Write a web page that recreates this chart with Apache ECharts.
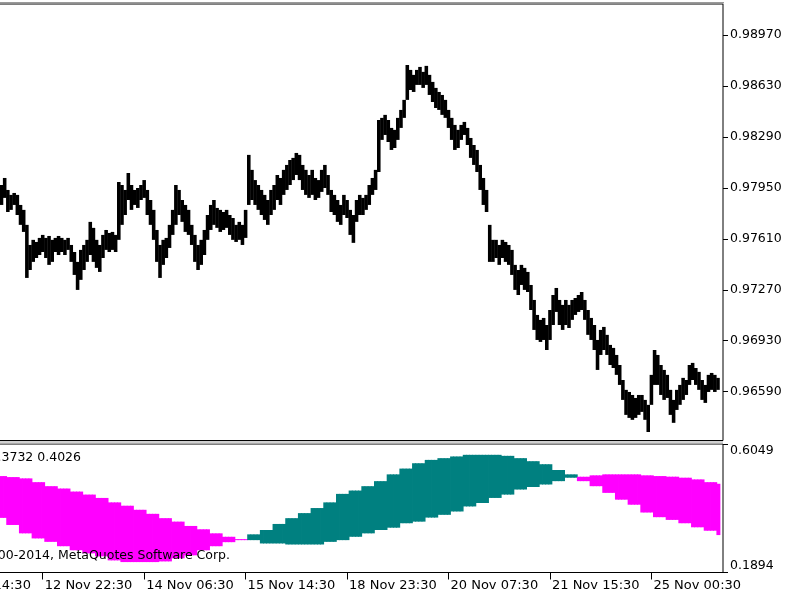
<!DOCTYPE html>
<html>
<head>
<meta charset="utf-8">
<title>H1 chart with MTF oscillator</title>
<script src="https://cdn.jsdelivr.net/npm/echarts@6.0.0/dist/echarts.min.js"></script>
<style>
  html, body { margin: 0; padding: 0; background: #fff; }
  #main { width: 800px; height: 600px; }
</style>
</head>
<body>
<div id="main"></div>
<script>
// H1 bars, index 0 = first bar at the left edge of the window
var highs = [
  0.97969, 0.98016, 0.97936, 0.97903, 0.97916, 0.97903, 0.97836, 0.97803, 0.97703, 0.97569,
  0.97603, 0.97589, 0.97616, 0.97636, 0.97616, 0.97629, 0.97603, 0.97616, 0.97629, 0.97616,
  0.97603, 0.97616, 0.97569, 0.97522, 0.97456, 0.97536, 0.97569, 0.97603, 0.97723, 0.97683,
  0.97603, 0.97569, 0.97636, 0.97669, 0.97649, 0.97656, 0.97636, 0.97989, 0.97969, 0.97936,
  0.98049, 0.97969, 0.97936, 0.97949, 0.97969, 0.98002, 0.97936, 0.97869, 0.97803, 0.97669,
  0.97569, 0.97603, 0.97616, 0.97703, 0.97803, 0.97969, 0.97936, 0.97869, 0.97836, 0.97803,
  0.97703, 0.97636, 0.97569, 0.97603, 0.97669, 0.97769, 0.97836, 0.97869, 0.97816, 0.97803,
  0.97789, 0.97803, 0.97769, 0.97749, 0.97703, 0.97723, 0.97703, 0.97803, 0.98170, 0.98070,
  0.98002, 0.97969, 0.97936, 0.97903, 0.97869, 0.97936, 0.97969, 0.98036, 0.98016, 0.98070,
  0.98103, 0.98136, 0.98150, 0.98183, 0.98170, 0.98103, 0.98070, 0.98036, 0.98070, 0.98016,
  0.98002, 0.98070, 0.98103, 0.98036, 0.97936, 0.97903, 0.97869, 0.97836, 0.97903, 0.97869,
  0.97803, 0.97769, 0.97869, 0.97903, 0.97883, 0.97903, 0.97969, 0.98016, 0.98070, 0.98403,
  0.98417, 0.98437, 0.98403, 0.98350, 0.98337, 0.98417, 0.98470, 0.98537, 0.98770, 0.98737,
  0.98704, 0.98737, 0.98757, 0.98724, 0.98764, 0.98704, 0.98657, 0.98617, 0.98590, 0.98570,
  0.98537, 0.98470, 0.98417, 0.98370, 0.98337, 0.98370, 0.98390, 0.98350, 0.98283, 0.98236,
  0.98203, 0.98103, 0.98016, 0.97936, 0.97703, 0.97603, 0.97603, 0.97569, 0.97603, 0.97589,
  0.97569, 0.97536, 0.97436, 0.97402, 0.97436, 0.97416, 0.97389, 0.97302, 0.97202, 0.97102,
  0.97069, 0.97082, 0.97035, 0.97135, 0.97235, 0.97282, 0.97202, 0.97169, 0.97202, 0.97169,
  0.97202, 0.97215, 0.97235, 0.97255, 0.97202, 0.97135, 0.97082, 0.97035, 0.96935, 0.97002,
  0.97022, 0.96969, 0.96902, 0.96882, 0.96835, 0.96768, 0.96668, 0.96602, 0.96588, 0.96568,
  0.96548, 0.96568, 0.96568, 0.96535, 0.96502, 0.96702, 0.96868, 0.96835, 0.96768, 0.96735,
  0.96702, 0.96602, 0.96535, 0.96602, 0.96635, 0.96682, 0.96668, 0.96768, 0.96782, 0.96748,
  0.96722, 0.96668, 0.96635, 0.96702, 0.96715, 0.96702, 0.96682
];
var lows = [
  0.97836, 0.97883, 0.97789, 0.97803, 0.97836, 0.97769, 0.97703, 0.97656, 0.97349, 0.97402,
  0.97456, 0.97482, 0.97502, 0.97522, 0.97482, 0.97436, 0.97456, 0.97522, 0.97502, 0.97522,
  0.97502, 0.97536, 0.97456, 0.97369, 0.97269, 0.97336, 0.97402, 0.97456, 0.97502, 0.97456,
  0.97416, 0.97389, 0.97482, 0.97536, 0.97522, 0.97536, 0.97522, 0.97603, 0.97703, 0.97769,
  0.97869, 0.97803, 0.97836, 0.97816, 0.97869, 0.97883, 0.97769, 0.97703, 0.97603, 0.97456,
  0.97349, 0.97436, 0.97482, 0.97549, 0.97636, 0.97703, 0.97769, 0.97723, 0.97656, 0.97636,
  0.97569, 0.97456, 0.97402, 0.97436, 0.97502, 0.97603, 0.97669, 0.97703, 0.97683, 0.97656,
  0.97669, 0.97683, 0.97636, 0.97603, 0.97589, 0.97603, 0.97569, 0.97616, 0.97836, 0.97869,
  0.97836, 0.97803, 0.97769, 0.97736, 0.97703, 0.97769, 0.97803, 0.97869, 0.97836, 0.97903,
  0.97936, 0.97969, 0.98002, 0.98036, 0.98002, 0.97936, 0.97903, 0.97883, 0.97903, 0.97869,
  0.97883, 0.97923, 0.97949, 0.97903, 0.97789, 0.97769, 0.97723, 0.97703, 0.97769, 0.97749,
  0.97636, 0.97583, 0.97723, 0.97769, 0.97769, 0.97803, 0.97836, 0.97903, 0.97936, 0.98056,
  0.98270, 0.98303, 0.98256, 0.98203, 0.98216, 0.98270, 0.98350, 0.98417, 0.98537, 0.98603,
  0.98590, 0.98637, 0.98637, 0.98617, 0.98637, 0.98570, 0.98523, 0.98483, 0.98470, 0.98437,
  0.98417, 0.98350, 0.98270, 0.98203, 0.98216, 0.98270, 0.98303, 0.98236, 0.98150, 0.98103,
  0.98056, 0.97936, 0.97836, 0.97789, 0.97456, 0.97456, 0.97482, 0.97436, 0.97482, 0.97456,
  0.97436, 0.97369, 0.97269, 0.97235, 0.97302, 0.97269, 0.97255, 0.97135, 0.97002, 0.96935,
  0.96922, 0.96935, 0.96868, 0.96935, 0.97035, 0.97122, 0.97035, 0.97002, 0.97035, 0.97015,
  0.97069, 0.97102, 0.97122, 0.97135, 0.97069, 0.96969, 0.96935, 0.96868, 0.96735, 0.96835,
  0.96868, 0.96835, 0.96768, 0.96748, 0.96702, 0.96635, 0.96535, 0.96435, 0.96415, 0.96402,
  0.96415, 0.96435, 0.96455, 0.96402, 0.96321, 0.96502, 0.96635, 0.96635, 0.96568, 0.96535,
  0.96548, 0.96435, 0.96382, 0.96468, 0.96502, 0.96535, 0.96568, 0.96635, 0.96668, 0.96635,
  0.96602, 0.96535, 0.96515, 0.96588, 0.96602, 0.96588, 0.96602
];

// oscillator from the H4 timeframe, one value per H1 bar (4 bars per H4 step)
var slowLine = [
  0.5012, 0.5012,
  0.4979, 0.4979, 0.4979, 0.4979,
  0.4937, 0.4937, 0.4937, 0.4937,
  0.4815, 0.4815, 0.4815, 0.4815,
  0.4685, 0.4685, 0.4685, 0.4685,
  0.4609, 0.4609, 0.4609, 0.4609,
  0.4511, 0.4511, 0.4511, 0.4511,
  0.4413, 0.4413, 0.4413, 0.4413,
  0.4305, 0.4305, 0.4305, 0.4305,
  0.4161, 0.4161, 0.4161, 0.4161,
  0.4053, 0.4053, 0.4053, 0.4053,
  0.3922, 0.3922, 0.3922, 0.3922,
  0.3791, 0.3791, 0.3791, 0.3791,
  0.3651, 0.3651, 0.3651, 0.3651,
  0.3539, 0.3539, 0.3539, 0.3539,
  0.3399, 0.3399, 0.3399, 0.3399,
  0.3291, 0.3291, 0.3291, 0.3291,
  0.3160, 0.3160, 0.3160, 0.3160,
  0.3049, 0.3049, 0.3049, 0.3049,
  0.2973, 0.2973, 0.2973, 0.2973,
  0.2941, 0.2941, 0.2941, 0.2941,
  0.2833, 0.2833, 0.2833, 0.2833,
  0.2833, 0.2833, 0.2833, 0.2833,
  0.2800, 0.2800, 0.2800, 0.2800,
  0.2800, 0.2800, 0.2800, 0.2800,
  0.2800, 0.2800, 0.2800, 0.2800,
  0.2885, 0.2885, 0.2885, 0.2885,
  0.2941, 0.2941, 0.2941, 0.2941,
  0.3049, 0.3049, 0.3049, 0.3049,
  0.3160, 0.3160, 0.3160, 0.3160,
  0.3268, 0.3268, 0.3268, 0.3268,
  0.3343, 0.3343, 0.3343, 0.3343,
  0.3487, 0.3487, 0.3487, 0.3487,
  0.3539, 0.3539, 0.3539, 0.3539,
  0.3670, 0.3670, 0.3670, 0.3670,
  0.3759, 0.3759, 0.3759, 0.3759,
  0.3867, 0.3867, 0.3867, 0.3867,
  0.4030, 0.4030, 0.4030, 0.4030,
  0.4141, 0.4141, 0.4141, 0.4141,
  0.4305, 0.4305, 0.4305, 0.4305,
  0.4413, 0.4413, 0.4413, 0.4413,
  0.4577, 0.4577, 0.4577, 0.4577,
  0.4658, 0.4658, 0.4658, 0.4658,
  0.4740, 0.4740, 0.4740, 0.4740,
  0.4848, 0.4848, 0.4848, 0.4848,
  0.4959, 0.4959, 0.4959, 0.4959,
  0.4990, 0.4990, 0.4990, 0.4990,
  0.5035, 0.5035, 0.5035, 0.5035,
  0.5067, 0.5067, 0.5067, 0.5067,
  0.5067, 0.5067, 0.5067, 0.5067,
  0.5067, 0.5067, 0.5067, 0.5067,
  0.5035, 0.5035, 0.5035, 0.5035,
  0.5012, 0.5012, 0.5012, 0.5012,
  0.4992, 0.4992, 0.4992, 0.4992,
  0.4959, 0.4959, 0.4959, 0.4959,
  0.4904, 0.4904, 0.4904, 0.4904,
  0.4815, 0.4815, 0.4815, 0.4815,
  0.4763
];
var fastLine = [
  0.3660, 0.3660,
  0.3431, 0.3431, 0.3431, 0.3431,
  0.3160, 0.3160, 0.3160, 0.3160,
  0.2996, 0.2996, 0.2996, 0.2996,
  0.2885, 0.2885, 0.2885, 0.2885,
  0.2744, 0.2744, 0.2744, 0.2744,
  0.2613, 0.2613, 0.2613, 0.2613,
  0.2515, 0.2515, 0.2515, 0.2515,
  0.2417, 0.2417, 0.2417, 0.2417,
  0.2286, 0.2286, 0.2286, 0.2286,
  0.2231, 0.2231, 0.2231, 0.2231,
  0.2231, 0.2231, 0.2231, 0.2231,
  0.2231, 0.2231, 0.2231, 0.2231,
  0.2253, 0.2253, 0.2253, 0.2253,
  0.2352, 0.2352, 0.2352, 0.2352,
  0.2450, 0.2450, 0.2450, 0.2450,
  0.2613, 0.2613, 0.2613, 0.2613,
  0.2744, 0.2744, 0.2744, 0.2744,
  0.2875, 0.2875, 0.2875, 0.2875,
  0.2941, 0.2941, 0.2941, 0.2941,
  0.3127, 0.3127, 0.3127, 0.3127,
  0.3268, 0.3268, 0.3268, 0.3268,
  0.3464, 0.3464, 0.3464, 0.3464,
  0.3651, 0.3651, 0.3651, 0.3651,
  0.3814, 0.3814, 0.3814, 0.3814,
  0.3978, 0.3978, 0.3978, 0.3978,
  0.4161, 0.4161, 0.4161, 0.4161,
  0.4436, 0.4436, 0.4436, 0.4436,
  0.4544, 0.4544, 0.4544, 0.4544,
  0.4685, 0.4685, 0.4685, 0.4685,
  0.4848, 0.4848, 0.4848, 0.4848,
  0.5067, 0.5067, 0.5067, 0.5067,
  0.5254, 0.5254, 0.5254, 0.5254,
  0.5427, 0.5427, 0.5427, 0.5427,
  0.5535, 0.5535, 0.5535, 0.5535,
  0.5591, 0.5591, 0.5591, 0.5591,
  0.5646, 0.5646, 0.5646, 0.5646,
  0.5699, 0.5699, 0.5699, 0.5699,
  0.5699, 0.5699, 0.5699, 0.5699,
  0.5699, 0.5699, 0.5699, 0.5699,
  0.5666, 0.5666, 0.5666, 0.5666,
  0.5591, 0.5591, 0.5591, 0.5591,
  0.5493, 0.5493, 0.5493, 0.5493,
  0.5395, 0.5395, 0.5395, 0.5395,
  0.5208, 0.5208, 0.5208, 0.5208,
  0.5067, 0.5067, 0.5067, 0.5067,
  0.4848, 0.4848, 0.4848, 0.4848,
  0.4685, 0.4685, 0.4685, 0.4685,
  0.4469, 0.4469, 0.4469, 0.4469,
  0.4249, 0.4249, 0.4249, 0.4249,
  0.4086, 0.4086, 0.4086, 0.4086,
  0.3834, 0.3834, 0.3834, 0.3834,
  0.3683, 0.3683, 0.3683, 0.3683,
  0.3595, 0.3595, 0.3595, 0.3595,
  0.3487, 0.3487, 0.3487, 0.3487,
  0.3356, 0.3356, 0.3356, 0.3356,
  0.3245, 0.3245, 0.3245, 0.3245,
  0.3104
];

var priceTicks = [0.96590, 0.96930, 0.97270, 0.97610, 0.97950, 0.98290, 0.98630, 0.98970];
var oscTicks = [0.1894, 0.6049];
var timeTickBars = [-19, 13, 45, 77, 109, 141, 173, 205];
var timeTickLabels = ['11 Nov 14:30', '12 Nov 22:30', '14 Nov 06:30', '15 Nov 14:30',
                      '18 Nov 23:30', '20 Nov 07:30', '21 Nov 15:30', '25 Nov 00:30'];
var oscValuesText = '0.3732 0.4026';
var copyrightText = 'Copyright 2000-2014, MetaQuotes Software Corp.';

var FONT = 'DejaVu Sans';
var chart = echarts.init(document.getElementById('main'), null, { renderer: 'canvas' });

var priceData = highs.map(function (h, i) { return [i, h, lows[i]]; });
var oscData = slowLine.map(function (s, i) { return [i, s, fastLine[i]]; });

// each H1 bar: high-low stroke, wide enough to touch its neighbours
function renderPriceBar(params, api) {
  var top = api.coord([api.value(0), api.value(1)]);
  var bot = api.coord([api.value(0), api.value(2)]);
  var w = api.size([1, 0])[0];
  return {
    type: 'rect',
    shape: { x: top[0] - w / 2 - 0.2, y: top[1], width: w + 0.4, height: Math.max(bot[1] - top[1], 1) },
    style: { fill: '#000' }
  };
}

// filling between the two lines, colour by which one is on top
function renderFilling(params, api) {
  var i = api.value(0), slow = api.value(1), fast = api.value(2);
  var a = api.coord([i - 0.5, Math.max(slow, fast)]);
  var b = api.coord([i + 0.5, Math.min(slow, fast)]);
  return {
    type: 'rect',
    shape: { x: a[0], y: a[1], width: b[0] - a[0] + 0.8, height: Math.max(b[1] - a[1], 1) },
    style: { fill: fast > slow ? '#008080' : '#ff00ff' }
  };
}

var xMin = -20.03, xMax = 227.58;

var option = {
  animation: false,
  backgroundColor: '#fff',
  textStyle: { fontFamily: FONT },
  grid: [
    { left: -62, right: 77, top: 4, height: 436.5, show: true, borderColor: '#000', borderWidth: 1,
      outerBoundsMode: 'none', containLabel: false },
    { left: -62, right: 77, top: 444, height: 128.5, show: true, borderColor: '#000', borderWidth: 1,
      outerBoundsMode: 'none', containLabel: false }
  ],
  xAxis: [
    { type: 'value', gridIndex: 0, min: xMin, max: xMax, show: false },
    {
      type: 'value', gridIndex: 1, min: xMin, max: xMax,
      axisLine: { show: false, onZero: false },
      splitLine: { show: false },
      axisTick: { show: true, length: 7, customValues: timeTickBars, lineStyle: { color: '#000' } },
      axisLabel: {
        customValues: timeTickBars,
        align: 'left',
        margin: 7,
        padding: [0, 0, 0, 2],
        color: '#000',
        fontFamily: FONT,
        fontSize: 13,
        formatter: function (v) {
          var k = timeTickBars.indexOf(Math.round(v));
          return k < 0 ? '' : timeTickLabels[k];
        }
      }
    }
  ],
  yAxis: [
    {
      type: 'value', gridIndex: 0, position: 'right', min: 0.962641, max: 0.991769,
      axisLine: { show: false, onZero: false },
      splitLine: { show: false },
      axisTick: { show: true, length: 5, customValues: priceTicks, lineStyle: { color: '#000' } },
      axisLabel: {
        customValues: priceTicks, margin: 7, color: '#000', fontFamily: FONT, fontSize: 12.5,
        formatter: function (v) { return v.toFixed(5); }
      }
    },
    {
      type: 'value', gridIndex: 1, position: 'right', min: 0.1894, max: 0.6049,
      axisLine: { show: false, onZero: false },
      splitLine: { show: false },
      axisTick: { show: true, length: 5, customValues: oscTicks, lineStyle: { color: '#000' } },
      axisLabel: {
        customValues: oscTicks, margin: 7, color: '#000', fontFamily: FONT, fontSize: 12.5,
        formatter: function (v) {
          return v > 0.4 ? '{hi|' + v.toFixed(4) + '}' : '{lo|' + v.toFixed(4) + '}';
        },
        rich: {
          hi: { padding: [13, 0, 0, 0], fontFamily: FONT, fontSize: 12.5, color: '#000' },
          lo: { padding: [0, 0, 13, 0], fontFamily: FONT, fontSize: 12.5, color: '#000' }
        }
      }
    }
  ],
  series: [
    {
      type: 'custom', xAxisIndex: 0, yAxisIndex: 0,
      renderItem: renderPriceBar,
      encode: { x: 0, y: [1, 2] },
      data: priceData
    },
    {
      type: 'custom', xAxisIndex: 1, yAxisIndex: 1,
      renderItem: renderFilling,
      encode: { x: 0, y: [1, 2] },
      data: oscData
    }
  ],
  graphic: [
    { type: 'rect', z: 50, shape: { x: 0, y: 2, width: 724, height: 1.5 }, style: { fill: '#9a9a9a' } },
    { type: 'rect', z: 50, shape: { x: 0, y: 441, width: 723, height: 2.5 }, style: { fill: '#d0d0d0' } },
    {
      type: 'text', z: 100,
      style: { text: oscValuesText, x: 81, y: 458, align: 'right', verticalAlign: 'middle',
               font: '12.5px "DejaVu Sans"', fill: '#000' }
    },
    {
      type: 'text', z: 100,
      style: { text: copyrightText, x: 230, y: 556, align: 'right', verticalAlign: 'middle',
               font: '12.5px "DejaVu Sans"', fill: '#000' }
    }
  ]
};

chart.setOption(option);
</script>
</body>
</html>
